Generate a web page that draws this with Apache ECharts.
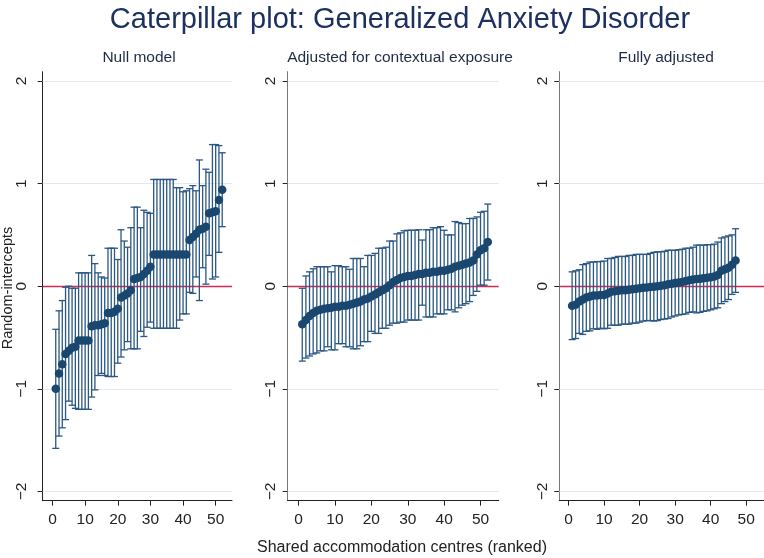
<!DOCTYPE html>
<html>
<head>
<meta charset="utf-8">
<script src="https://cdn.jsdelivr.net/npm/echarts@6/dist/echarts.min.js"></script>
<style>
html,body{margin:0;padding:0;background:#fff;}
#chart{width:764px;height:558px;}
</style>
</head>
<body>
<div id="chart"></div>
<script>
// ---------- DATA ----------
const mainTitle = 'Caterpillar plot: Generalized Anxiety Disorder';
const panelTitles = ['Null model', 'Adjusted for contextual exposure', 'Fully adjusted'];
const xAxisTitle = 'Shared accommodation centres (ranked)';
const yAxisTitle = 'Random-intercepts';
const xTicks = [0, 10, 20, 30, 40, 50];
const yTicks = [-2, -1, 0, 1, 2];

// Null model (52 centres)
const nullEst = [-1.00,-0.85,-0.76,-0.66,-0.63,-0.60,-0.59,-0.53,-0.53,-0.53,
  -0.53,-0.39,-0.38,-0.38,-0.37,-0.36,-0.26,-0.26,-0.25,-0.22,
  -0.11,-0.09,-0.07,-0.04,0.07,0.08,0.09,0.12,0.15,0.19,
  0.31,0.31,0.31,0.31,0.31,0.31,0.31,0.31,0.31,0.31,
  0.31,0.45,0.48,0.51,0.55,0.56,0.58,0.71,0.72,0.73,
  0.84,0.94];
const nullHi = [-0.42,-0.24,-0.14,-0.01,0.00,-0.02,-0.02,0.13,0.13,0.13,
  0.13,0.30,0.22,0.13,0.09,0.08,0.37,0.37,0.37,0.26,
  0.55,0.44,0.38,0.57,0.77,0.77,0.57,0.74,0.72,0.71,
  1.04,1.04,1.04,1.04,1.04,1.04,1.04,0.96,0.96,0.92,
  0.93,0.95,0.98,0.93,1.23,0.98,1.14,1.11,1.38,1.38,
  1.37,1.30];
const nullLo = [-1.58,-1.46,-1.38,-1.30,-1.12,-1.16,-1.19,-1.20,-1.20,-1.20,
  -1.20,-1.08,-1.01,-0.87,-0.85,-0.87,-0.88,-0.88,-0.88,-0.75,
  -0.69,-0.62,-0.54,-0.61,-0.61,-0.61,-0.44,-0.49,-0.40,-0.35,
  -0.41,-0.41,-0.41,-0.41,-0.41,-0.41,-0.41,-0.41,-0.33,-0.27,
  -0.27,-0.06,-0.07,0.09,-0.14,0.18,0.02,0.30,0.07,0.09,
  0.33,0.58];

// Adjusted for contextual exposure (52 centres)
const ctxEst = [-0.37,-0.33,-0.29,-0.26,-0.24,-0.23,-0.22,-0.215,-0.21,-0.20,
  -0.20,-0.19,-0.19,-0.18,-0.17,-0.16,-0.15,-0.13,-0.12,-0.10,
  -0.08,-0.06,-0.04,-0.02,0.01,0.04,0.06,0.08,0.09,0.10,
  0.10,0.11,0.12,0.12,0.13,0.13,0.14,0.14,0.15,0.15,
  0.16,0.17,0.19,0.20,0.21,0.22,0.23,0.25,0.31,0.35,
  0.37,0.43];
const ctxHi = [-0.02,0.10,0.14,0.17,0.19,0.19,0.19,0.19,0.14,0.20,
  0.20,0.19,0.19,0.165,0.27,0.27,0.27,0.19,0.30,0.30,
  0.32,0.37,0.37,0.38,0.44,0.44,0.51,0.52,0.54,0.545,
  0.545,0.545,0.55,0.45,0.55,0.55,0.57,0.57,0.58,0.545,
  0.50,0.50,0.63,0.62,0.61,0.61,0.66,0.66,0.675,0.72,
  0.73,0.80];
const ctxLo = [-0.73,-0.70,-0.68,-0.66,-0.65,-0.63,-0.63,-0.59,-0.62,-0.62,
  -0.56,-0.56,-0.59,-0.59,-0.61,-0.61,-0.58,-0.54,-0.54,-0.44,
  -0.46,-0.46,-0.41,-0.41,-0.38,-0.36,-0.36,-0.35,-0.35,-0.33,
  -0.33,-0.33,-0.33,-0.185,-0.30,-0.30,-0.30,-0.27,-0.27,-0.27,
  -0.23,-0.23,-0.25,-0.21,-0.185,-0.17,-0.15,-0.09,-0.05,0.01,
  0.01,0.06];

// Fully adjusted (47 centres)
const fullEst = [-0.19,-0.18,-0.15,-0.13,-0.11,-0.10,-0.09,-0.09,-0.085,-0.085,
  -0.07,-0.055,-0.05,-0.045,-0.04,-0.04,-0.035,-0.03,-0.025,-0.02,
  -0.016,-0.012,-0.008,-0.005,0.0,0.005,0.01,0.018,0.024,0.03,
  0.037,0.042,0.05,0.058,0.065,0.07,0.073,0.077,0.082,0.087,
  0.095,0.11,0.15,0.165,0.18,0.21,0.25];
const fullHi = [0.14,0.15,0.16,0.21,0.22,0.235,0.235,0.24,0.24,0.245,
  0.27,0.27,0.28,0.29,0.29,0.29,0.30,0.30,0.31,0.31,
  0.31,0.31,0.32,0.33,0.335,0.335,0.34,0.35,0.35,0.35,
  0.355,0.36,0.37,0.37,0.38,0.40,0.40,0.40,0.405,0.405,
  0.41,0.43,0.47,0.48,0.49,0.50,0.56];
const fullLo = [-0.52,-0.51,-0.46,-0.47,-0.44,-0.435,-0.415,-0.42,-0.41,-0.415,
  -0.41,-0.38,-0.38,-0.38,-0.37,-0.37,-0.37,-0.36,-0.36,-0.35,
  -0.34,-0.335,-0.335,-0.34,-0.335,-0.325,-0.32,-0.315,-0.30,-0.29,
  -0.28,-0.275,-0.27,-0.255,-0.25,-0.26,-0.255,-0.245,-0.24,-0.23,
  -0.22,-0.21,-0.17,-0.15,-0.13,-0.08,-0.06];

// ---------- STYLE ----------
const FONT = '"Liberation Sans", Arial, Helvetica, sans-serif';
const navy = '#1a476f';
const barColor = '#2a5783';
const titleColor = '#1c3160';
const textColor = '#1f2b45';
const gridColor = '#e1e9ee';
const zeroColor = '#d62a50';

const panels = [
  {est: nullEst, lo: nullLo, hi: nullHi, left: 42.7, width: 189.3, xmin: -3, axisColor: '#222', labelMargin: 13},
  {est: ctxEst, lo: ctxLo, hi: ctxHi, left: 287.7, width: 211, xmin: -3, axisColor: '#777', labelMargin: 9},
  {est: fullEst, lo: fullLo, hi: fullHi, left: 559.3, width: 209.2, xmin: -2.6, axisColor: '#777', labelMargin: 9}
];
const gridTop = 71.7, gridHeight = 429;

function errItem(params, api) {
  const x = api.value(0), lo = api.value(1), hi = api.value(2);
  const a = api.coord([x, lo]), b = api.coord([x, hi]);
  const hw = 3.5;
  const st = {stroke: barColor, lineWidth: 1.3};
  return {type: 'group', children: [
    {type: 'line', shape: {x1: a[0], y1: a[1], x2: b[0], y2: b[1]}, style: st},
    {type: 'line', shape: {x1: a[0] - hw, y1: a[1], x2: a[0] + hw, y2: a[1]}, style: st},
    {type: 'line', shape: {x1: b[0] - hw, y1: b[1], x2: b[0] + hw, y2: b[1]}, style: st}
  ]};
}

const fmtY = v => (v < 0 ? '\u2212' + Math.abs(v) : String(v));

const grids = [], xAxes = [], yAxes = [], series = [];
panels.forEach((p, i) => {
  grids.push({left: p.left, top: gridTop, width: p.width, height: gridHeight});
  xAxes.push({
    type: 'value', gridIndex: i, min: p.xmin, max: 55,
    axisLine: {show: true, onZero: false, lineStyle: {color: '#222', width: 1}},
    axisTick: {show: true, customValues: xTicks, length: 5, lineStyle: {color: '#222'}},
    axisLabel: {customValues: xTicks, color: '#222', fontSize: 15.5, fontFamily: FONT, margin: 11},
    splitLine: {show: false}
  });
  yAxes.push({
    type: 'value', gridIndex: i, min: -2.09, max: 2.09,
    axisLine: {show: true, onZero: false, lineStyle: {color: p.axisColor, width: 1}},
    axisTick: {show: true, customValues: yTicks, length: 5, lineStyle: {color: '#222'}},
    axisLabel: {customValues: yTicks, rotate: 90, color: '#222', fontSize: 15.5, fontFamily: FONT, margin: p.labelMargin, formatter: fmtY},
    splitLine: {show: false}
  });
  const errData = p.est.map((v, k) => [k + 1, p.lo[k], p.hi[k]]);
  const ptData = p.est.map((v, k) => [k + 1, v]);
  series.push({
    type: 'custom', xAxisIndex: i, yAxisIndex: i, renderItem: errItem,
    data: errData, encode: {x: 0, y: [1, 2]}, z: 2, silent: true,
    markLine: {
      silent: true, symbol: 'none', z: 1, label: {show: false},
      data: [
        {yAxis: 2, lineStyle: {color: gridColor, width: 1, type: 'solid'}},
        {yAxis: 1, lineStyle: {color: gridColor, width: 1, type: 'solid'}},
        {yAxis: -1, lineStyle: {color: gridColor, width: 1, type: 'solid'}},
        {yAxis: -2, lineStyle: {color: gridColor, width: 1, type: 'solid'}},
        {yAxis: 0, lineStyle: {color: zeroColor, width: 1.3, type: 'solid'}}
      ]
    }
  });
  series.push({
    type: 'scatter', xAxisIndex: i, yAxisIndex: i, data: ptData,
    symbol: 'circle', symbolSize: 8.5, itemStyle: {color: navy, opacity: 1}, z: 3, silent: true
  });
});

const txt = (text, x, y, size, color, extra) => Object.assign({
  type: 'text', x: x, y: y,
  style: {text: text, font: size + 'px ' + FONT, fill: color,
    textAlign: 'center', align: 'center', textVerticalAlign: 'middle', verticalAlign: 'middle'}
}, extra || {});

const chart = echarts.init(document.getElementById('chart'), null, {renderer: 'canvas'});
chart.setOption({
  animation: false,
  backgroundColor: '#ffffff',
  grid: grids, xAxis: xAxes, yAxis: yAxes, series: series,
  graphic: [
    txt(mainTitle, 400, 20, 29, titleColor),
    txt(panelTitles[0], 139, 58, 15.5, textColor),
    txt(panelTitles[1], 400, 58, 15.5, textColor),
    txt(panelTitles[2], 666, 58, 15.5, textColor),
    txt(xAxisTitle, 402, 548, 16, '#222'),
    txt(yAxisTitle, 8, 288, 14.5, '#222', {rotation: Math.PI / 2})
  ]
});
</script>
</body>
</html>
